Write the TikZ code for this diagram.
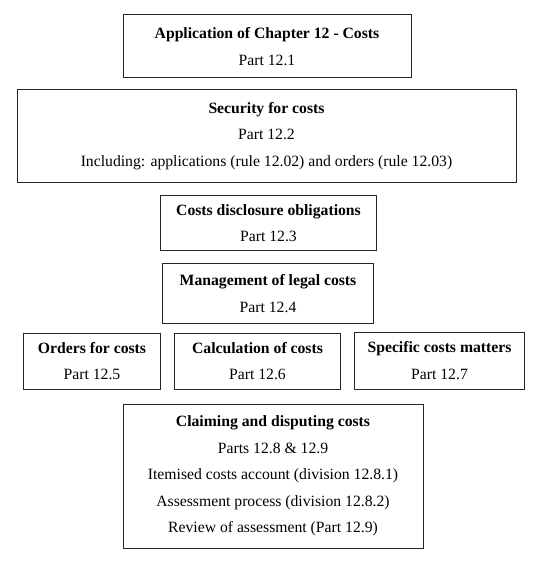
\documentclass[tikz,border=0pt]{standalone}
\usepackage{fontspec}
\setmainfont{Liberation Serif}
\begin{document}
\begin{tikzpicture}[x=1pt,y=-1pt,
  box/.style={draw=black!85, line width=1pt, align=center, inner sep=0pt,
    font=\fontsize{15.7}{26.6}\selectfont}]
\useasboundingbox (0,0) rectangle (554,567);
\node[box, minimum width=288, minimum height=63] (b1) at (267,46.5)
  {\textbf{Application of Chapter 12 - Costs}\\Part 12.1};
\node[box, minimum width=499, minimum height=92] (b2) at (266.5,136)
  {\textbf{Security for costs}\\Part 12.2\\Including: applications (rule 12.02) and orders (rule 12.03)};
\node[box, minimum width=216, minimum height=55] (b3) at (268.5,223)
  {\textbf{Costs disclosure obligations}\\Part 12.3};
\node[box, minimum width=211, minimum height=60] (b4) at (268,293.5)
  {\textbf{Management of legal costs}\\Part 12.4};
\node[box, minimum width=137, minimum height=56] (b5) at (92,361)
  {\textbf{Orders for costs}\\Part 12.5};
\node[box, minimum width=166, minimum height=56] (b6) at (257.5,361)
  {\textbf{Calculation of costs}\\Part 12.6};
\node[box, minimum width=170, minimum height=57] (b7) at (439.5,360.5)
  {\textbf{Specific costs matters}\\Part 12.7};
\node[box, minimum width=300, minimum height=144] (b8) at (273,476)
  {\textbf{Claiming and disputing costs}\\Parts 12.8 \& 12.9\\Itemised costs account (division 12.8.1)\\Assessment process (division 12.8.2)\\Review of assessment (Part 12.9)};
\end{tikzpicture}
\end{document}
